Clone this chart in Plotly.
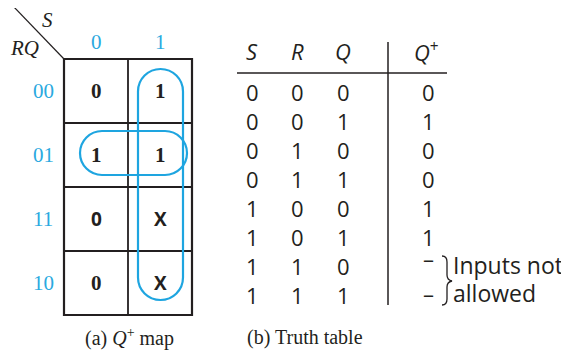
import plotly.graph_objects as go

# ---------------- data ----------------
col_labels = ["0", "1"]                 # S
row_labels = ["00", "01", "11", "10"]   # RQ
kmap = [["0", "1"],
        ["1", "1"],
        ["0", "X"],
        ["0", "X"]]
# loops: (first col, last col, first row, last row)
loops = [(1, 1, 0, 3), (0, 1, 1, 1)]

tt_headers = ["<i>S</i>", "<i>R</i>", "<i>Q</i>", "<i>Q</i><sup>+</sup>"]
tt_S = ["0", "0", "0", "0", "1", "1", "1", "1"]
tt_R = ["0", "0", "1", "1", "0", "0", "1", "1"]
tt_Q = ["0", "1", "0", "1", "0", "1", "0", "1"]
tt_Qp = ["0", "1", "0", "0", "1", "1", "\u2013", "\u2013"]
note_lines = ["Inputs not", "allowed"]
captions = ["(a) <i>Q</i><sup>+</sup> map", "(b) Truth table"]

# ---------------- style / layout ----------------
W, H = 569, 352
OFF = 8          # page body margin of the html page
BLUE = "#1ea5e0"
LBL = "#2aa9e0"
SERIF = "Liberation Serif"
SANS = "Open Sans"

gx0, gy0, cell = 64, 59, 64   # K-map grid origin and cell size

fig = go.Figure()
ann = []
shapes = []

def text(x, y, s, size, family, color="#231f20", xanchor="center", yshift=0):
    ann.append(dict(x=x, y=y, xref="x", yref="y", text=s, showarrow=False,
                    xanchor=xanchor, yanchor="middle", yshift=yshift,
                    font=dict(size=size, family=family, color=color), borderpad=0))

def line(x0, y0, x1, y1, w=1.5, color="#231f20"):
    shapes.append(dict(type="line", x0=x0, y0=y0, x1=x1, y1=y1, xref="x", yref="y",
                       line=dict(color=color, width=w)))

# ---- K-map grid ----
ncol, nrow = len(col_labels), len(row_labels)
shapes.append(dict(type="rect", x0=gx0, y0=gy0, x1=gx0 + ncol * cell, y1=gy0 + nrow * cell,
                   xref="x", yref="y", line=dict(color="#231f20", width=2.2)))
for c in range(1, ncol):
    line(gx0 + c * cell, gy0, gx0 + c * cell, gy0 + nrow * cell, 1.8)
for r in range(1, nrow):
    line(gx0, gy0 + r * cell, gx0 + ncol * cell, gy0 + r * cell, 1.8)
line(13, 6, gx0, gy0, 1.2)
text(47, 20, "<i>S</i>", 21, SERIF)
text(24, 48, "<i>RQ</i>", 21, SERIF)

for c, lab in enumerate(col_labels):
    text(gx0 + (c + 0.5) * cell, 42, lab, 21, SERIF, LBL)
for r, lab in enumerate(row_labels):
    text(43, gy0 + (r + 0.5) * cell, lab, 21, SERIF, LBL)
for r in range(nrow):
    for c in range(ncol):
        v = kmap[r][c]
        sans = (v == "X") or (r == 2)
        text(gx0 + (c + 0.5) * cell, gy0 + (r + 0.5) * cell, "<b>%s</b>" % v,
             19 if sans else 21, SANS if sans else SERIF)

# ---- loops (stadium shapes) ----
K = 0.5523
def stadium(x0, y0, x1, y1):
    w, h = x1 - x0, y1 - y0
    r = min(w, h) / 2
    k = r * K
    p = "M %f,%f " % (x0 + r, y0)
    p += "L %f,%f " % (x1 - r, y0)
    p += "C %f,%f %f,%f %f,%f " % (x1 - r + k, y0, x1, y0 + r - k, x1, y0 + r)
    p += "L %f,%f " % (x1, y1 - r)
    p += "C %f,%f %f,%f %f,%f " % (x1, y1 - r + k, x1 - r + k, y1, x1 - r, y1)
    p += "L %f,%f " % (x0 + r, y1)
    p += "C %f,%f %f,%f %f,%f " % (x0 + r - k, y1, x0, y1 - r + k, x0, y1 - r)
    p += "L %f,%f " % (x0, y0 + r)
    p += "C %f,%f %f,%f %f,%f Z" % (x0, y0 + r - k, x0 + r - k, y0, x0 + r, y0)
    return p

for (c0, c1, r0, r1) in loops:
    if r0 == r1:   # horizontal loop
        x0 = gx0 + c0 * cell + 16
        x1 = gx0 + (c1 + 1) * cell - 5
        y0 = gy0 + r0 * cell + 8
        y1 = gy0 + (r1 + 1) * cell - 12
    else:          # vertical loop
        x0 = gx0 + c0 * cell + 10
        x1 = gx0 + (c1 + 1) * cell - 9
        y0 = gy0 + r0 * cell + 10
        y1 = gy0 + (r1 + 1) * cell - 15
    shapes.append(dict(type="path", path=stadium(x0, y0, x1, y1), xref="x", yref="y",
                       line=dict(color=BLUE, width=2.2)))

# ---- truth table ----
tcols = [252, 297, 343, 428]
hdr_y, row0, dy = 51, 92, 29
for x, h in zip(tcols, tt_headers):
    text(x if h.find("sup") < 0 else x - 2, hdr_y, h, 22, SANS)
line(237, 73, 447, 73, 1.5)
line(388, 42, 388, 305, 1.5)
for i in range(len(tt_S)):
    y = row0 + i * dy
    for x, col in zip(tcols, [tt_S, tt_R, tt_Q, tt_Qp]):
        v = col[i]
        ys = 0
        if v == "\u2013":
            ys = 8 if i == 6 else 2
        text(x, y, v, 22, SANS, yshift=ys)

# brace + note
shapes.append(dict(type="path", xref="x", yref="y",
                   path="M 442,256 Q 447,256 447,262 L 447,275 Q 447,280 452,281 "
                        "Q 447,282 447,287 L 447,299 Q 447,305 442,305",
                   line=dict(color="#231f20", width=1.3)))
text(452, 265, note_lines[0], 23, SANS, xanchor="left")
text(452, 293, note_lines[1], 23, SANS, xanchor="left")

# captions
text(129, 337, captions[0], 20, SERIF)
text(305, 337, captions[1], 20, SERIF)

fig.update_layout(
    width=W - OFF, height=H - OFF, margin=dict(l=0, r=0, t=0, b=0),
    paper_bgcolor="white", plot_bgcolor="white",
    xaxis=dict(range=[OFF, W], visible=False, fixedrange=True),
    yaxis=dict(range=[H, OFF], visible=False, fixedrange=True),
    annotations=ann, shapes=shapes, showlegend=False,
)
fig.write_html("out.html")
